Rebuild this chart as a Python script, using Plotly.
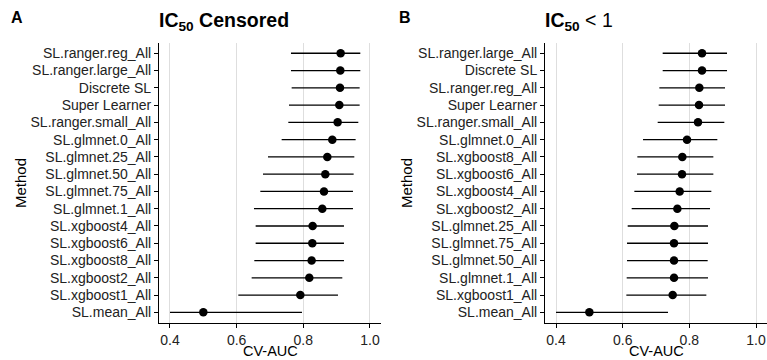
import plotly.graph_objects as go

# Panel A: IC50 Censored (top to bottom)
methods_a = ["SL.ranger.reg_All", "SL.ranger.large_All", "Discrete SL", "Super Learner",
             "SL.ranger.small_All", "SL.glmnet.0_All", "SL.glmnet.25_All", "SL.glmnet.50_All",
             "SL.glmnet.75_All", "SL.glmnet.1_All", "SL.xgboost4_All", "SL.xgboost6_All",
             "SL.xgboost8_All", "SL.xgboost2_All", "SL.xgboost1_All", "SL.mean_All"]
auc_a = [0.912, 0.911, 0.910, 0.908, 0.903, 0.887, 0.872, 0.866, 0.862, 0.857,
         0.828, 0.827, 0.825, 0.818, 0.791, 0.500]
lo_a = [0.763, 0.763, 0.765, 0.757, 0.755, 0.735, 0.694, 0.679, 0.671, 0.652,
        0.657, 0.657, 0.653, 0.645, 0.605, 0.400]
hi_a = [0.971, 0.971, 0.969, 0.969, 0.965, 0.957, 0.953, 0.951, 0.949, 0.949,
        0.922, 0.922, 0.922, 0.917, 0.904, 0.796]

# Panel B: IC50 < 1 (top to bottom)
methods_b = ["SL.ranger.large_All", "Discrete SL", "SL.ranger.reg_All", "Super Learner",
             "SL.ranger.small_All", "SL.glmnet.0_All", "SL.xgboost8_All", "SL.xgboost6_All",
             "SL.xgboost4_All", "SL.xgboost2_All", "SL.glmnet.25_All", "SL.glmnet.75_All",
             "SL.glmnet.50_All", "SL.glmnet.1_All", "SL.xgboost1_All", "SL.mean_All"]
auc_b = [0.838, 0.838, 0.830, 0.829, 0.826, 0.793, 0.779, 0.778, 0.771, 0.764,
         0.755, 0.754, 0.754, 0.754, 0.750, 0.500]
lo_b = [0.720, 0.720, 0.710, 0.708, 0.705, 0.661, 0.644, 0.643, 0.635, 0.627,
        0.615, 0.613, 0.613, 0.612, 0.611, 0.400]
hi_b = [0.913, 0.913, 0.907, 0.907, 0.905, 0.884, 0.872, 0.872, 0.866, 0.862,
        0.856, 0.856, 0.855, 0.856, 0.851, 0.736]

x_ticks = [0.4, 0.6, 0.8, 1.0]
x_tick_labels = ["0.4", "0.6", "0.8", "1.0"]

FONT = "Liberation Sans, Arial, sans-serif"

fig = go.Figure()

def add_panel(methods, auc, lo, hi, xa, ya):
    fig.add_trace(go.Scatter(
        x=auc, y=methods, mode="markers",
        marker=dict(color="black", size=8.5),
        error_x=dict(type="data", symmetric=False,
                     array=[h - a for h, a in zip(hi, auc)],
                     arrayminus=[a - l for a, l in zip(auc, lo)],
                     color="black", thickness=1.3, width=0),
        xaxis=xa, yaxis=ya, showlegend=False, hoverinfo="skip"))

add_panel(methods_a, auc_a, lo_a, hi_a, "x", "y")
add_panel(methods_b, auc_b, lo_b, hi_b, "x2", "y2")

ydom = [0.1036, 0.8808]
xcommon = dict(range=[0.367, 1.033], tickvals=x_ticks, ticktext=x_tick_labels,
               showgrid=True, gridcolor="#DEDEDE", gridwidth=1,
               showline=True, linecolor="black", linewidth=1.1,
               ticks="outside", ticklen=4, tickcolor="black",
               tickfont=dict(family=FONT, size=14, color="#222222"),
               zeroline=False, fixedrange=True)
ycommon = dict(range=[15.6, -0.6], type="category", showgrid=False,
               showline=True, linecolor="black", linewidth=1.1,
               ticks="outside", ticklen=4, tickcolor="black",
               tickfont=dict(family=FONT, size=14, color="#222222"),
               zeroline=False, fixedrange=True)

fig.update_layout(
    width=767, height=360,
    margin=dict(l=0, r=0, t=0, b=0),
    paper_bgcolor="white", plot_bgcolor="white",
    xaxis=dict(domain=[0.2073, 0.4967], anchor="y", **xcommon),
    yaxis=dict(domain=ydom, anchor="x", **ycommon),
    xaxis2=dict(domain=[0.7106, 1.0], anchor="y2", **xcommon),
    yaxis2=dict(domain=ydom, anchor="x2", **ycommon),
    font=dict(family=FONT, color="black"),
)

ann = []
# Panel letters
ann.append(dict(text="<b>A</b>", x=9 / 767, y=1 - 17 / 360, xref="paper", yref="paper",
                xanchor="left", yanchor="middle", showarrow=False,
                font=dict(family=FONT, size=16, color="black")))
ann.append(dict(text="<b>B</b>", x=397 / 767, y=1 - 17 / 360, xref="paper", yref="paper",
                xanchor="left", yanchor="middle", showarrow=False,
                font=dict(family=FONT, size=16, color="black")))
# Titles
ann.append(dict(text="<b>IC<sub>50</sub> Censored</b>", x=223.5 / 767, y=1 - 21 / 360,
                xref="paper", yref="paper", xanchor="center", yanchor="middle",
                showarrow=False, font=dict(family=FONT, size=19.5, color="black")))
ann.append(dict(text="<b>IC<sub>50</sub></b> < 1", x=579 / 767, y=1 - 21 / 360,
                xref="paper", yref="paper", xanchor="center", yanchor="middle",
                showarrow=False, font=dict(family=FONT, size=19.5, color="black")))
# Axis titles
for xc in [270 / 767, 656 / 767]:
    ann.append(dict(text="CV-AUC", x=xc, y=0, xref="paper", yref="paper",
                    xanchor="center", yanchor="bottom", showarrow=False, borderpad=0,
                    font=dict(family=FONT, size=14.5, color="black")))
for xc in [20 / 767, 406 / 767]:
    ann.append(dict(text="Method", x=xc, y=1 - 183 / 360, xref="paper", yref="paper",
                    xanchor="center", yanchor="middle", showarrow=False, textangle=-90,
                    font=dict(family=FONT, size=15, color="black")))
fig.update_layout(annotations=ann)

fig.write_html("out.html")
